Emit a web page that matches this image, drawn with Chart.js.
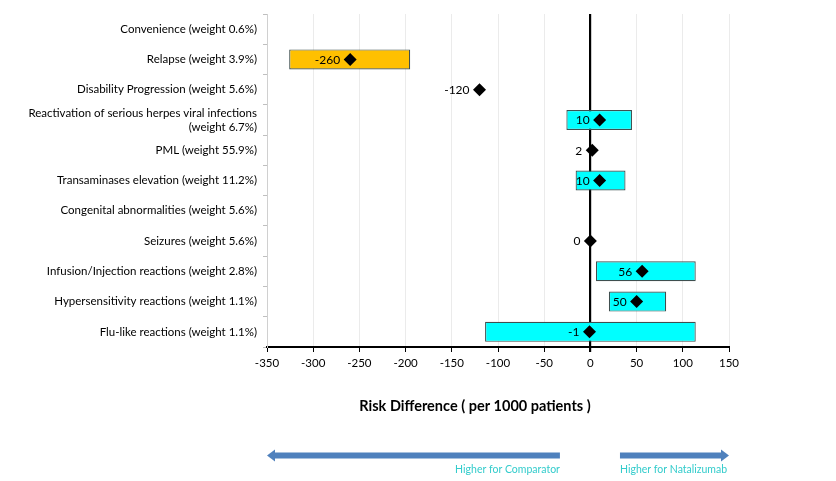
<!DOCTYPE html>
<html>
<head>
<meta charset="utf-8">
<script src="https://cdn.jsdelivr.net/npm/chart.js@4.4.1/dist/chart.umd.min.js"></script>
<style>
  html, body { margin: 0; padding: 0; background: #fff; }
  #wrap { width: 836px; height: 481px; }
</style>
</head>
<body>
<div id="wrap"><canvas id="c" width="836" height="481"></canvas></div>
<script>
const categories = [
  "Convenience (weight 0.6%)",
  "Relapse (weight 3.9%)",
  "Disability Progression (weight 5.6%)",
  ["Reactivation of serious herpes viral infections", "(weight 6.7%)"],
  "PML (weight 55.9%)",
  "Transaminases elevation (weight 11.2%)",
  "Congenital abnormalities (weight 5.6%)",
  "Seizures (weight 5.6%)",
  "Infusion/Injection reactions (weight 2.8%)",
  "Hypersensitivity reactions (weight 1.1%)",
  "Flu-like reactions (weight 1.1%)"
];
const riskDiff = [null, -260, -120, 10, 2, 10, null, 0, 56, 50, -1];
const ciLow  = [null, -326, null, -26, null, -16, null, null, 6, 20, -114];
const ciHigh = [null, -195, null, 45, null, 38, null, null, 114, 82, 114];
const xTicks = [-350, -300, -250, -200, -150, -100, -50, 0, 50, 100, 150];
const axisTitle = "Risk Difference ( per 1000 patients )";
const leftArrowLabel = "Higher for Comparator";
const rightArrowLabel = "Higher for Natalizumab";
const leftArrowRange = [-350, -33];
const rightArrowRange = [32, 150];

const FONT = "Lato, 'Open Sans', sans-serif";

const ciData = ciLow.map((lo, i) => (lo === null ? null : [lo, ciHigh[i]]));
const ciColors = riskDiff.map(v => (v !== null && v < -50 ? '#FFC000' : '#00FFFF'));

const labelPlugin = {
  id: 'extras',
  afterDatasetsDraw(chart) {
    const ctx = chart.ctx;
    const meta = chart.getDatasetMeta(1);
    ctx.save();
    ctx.font = "12px " + FONT;
    ctx.fillStyle = '#000';
    ctx.textAlign = 'right';
    ctx.textBaseline = 'middle';
    meta.data.forEach((pt, i) => {
      if (riskDiff[i] === null) return;
      ctx.fillText(String(riskDiff[i]), pt.x - 10, pt.y + 0.5);
    });
    ctx.restore();
  },
  afterDraw(chart) {
    const ctx = chart.ctx;
    const xs = chart.scales.x;
    ctx.save();
    // axis title
    ctx.font = "bold 14.5px " + FONT;
    ctx.fillStyle = '#000';
    ctx.textAlign = 'center';
    ctx.textBaseline = 'middle';
    ctx.fillText(axisTitle, (xs.left + xs.right) / 2 - 23, 406);
    // arrows
    const ay = 455.5;
    const col = '#4F81BD';
    ctx.fillStyle = col;
    const lx0 = xs.getPixelForValue(leftArrowRange[0]);
    const lx1 = xs.getPixelForValue(leftArrowRange[1]);
    ctx.fillRect(lx0 + 6, ay - 3, lx1 - lx0 - 6, 6);
    ctx.beginPath();
    ctx.moveTo(lx0, ay);
    ctx.lineTo(lx0 + 8, ay - 6);
    ctx.lineTo(lx0 + 8, ay + 6);
    ctx.closePath();
    ctx.fill();
    const rx0 = xs.getPixelForValue(rightArrowRange[0]);
    const rx1 = xs.getPixelForValue(rightArrowRange[1]);
    ctx.fillRect(rx0, ay - 3, rx1 - rx0 - 6, 6);
    ctx.beginPath();
    ctx.moveTo(rx1, ay);
    ctx.lineTo(rx1 - 8, ay - 6);
    ctx.lineTo(rx1 - 8, ay + 6);
    ctx.closePath();
    ctx.fill();
    ctx.font = "10.5px " + FONT;
    ctx.fillStyle = '#33CCCC';
    ctx.textBaseline = 'middle';
    ctx.textAlign = 'right';
    ctx.fillText(leftArrowLabel, lx1, 470);
    ctx.textAlign = 'left';
    ctx.fillText(rightArrowLabel, rx0, 470);
    ctx.restore();
  }
};

new Chart(document.getElementById('c'), {
  type: 'bar',
  data: {
    labels: categories,
    datasets: [
      {
        type: 'bar',
        data: ciData,
        backgroundColor: ciColors,
        borderColor: '#3F4F4F',
        borderWidth: 1.2,
        borderSkipped: false,
        barPercentage: 0.66,
        categoryPercentage: 1.0,
        order: 2
      },
      {
        type: 'line',
        data: riskDiff,
        showLine: false,
        pointStyle: 'rectRot',
        pointRadius: 6.5,
        pointHoverRadius: 6.5,
        backgroundColor: '#000',
        borderColor: '#000',
        borderWidth: 0,
        order: 1
      }
    ]
  },
  options: {
    indexAxis: 'y',
    responsive: false,
    animation: false,
    devicePixelRatio: 1,
    layout: { padding: { left: 0, top: 14, right: 107, bottom: 0 } },
    plugins: { legend: { display: false }, tooltip: { enabled: false } },
    scales: {
      x: {
        type: 'linear',
        min: -350,
        max: 150,
        afterBuildTicks(scale) { scale.ticks = xTicks.map(v => ({ value: v })); },
        afterFit(scale) { scale.height = 134; },
        grid: {
          color: ctx => (ctx.tick && ctx.tick.value === 0 ? '#000' : '#EBEBEB'),
          lineWidth: ctx => (ctx.tick && ctx.tick.value === 0 ? 2.2 : 1),
          tickColor: '#000',
          tickLength: 5,
          drawOnChartArea: true
        },
        border: { color: '#000', width: 2 },
        ticks: {
          font: { family: FONT, size: 11.5 },
          color: '#000',
          padding: 4,
          maxRotation: 0,
          autoSkip: false
        }
      },
      y: {
        type: 'category',
        offset: true,
        afterFit(scale) { scale.width = 267; },
        grid: {
          offset: true,
          drawOnChartArea: false,
          drawTicks: true,
          tickLength: 4,
          tickColor: '#BFBFBF',
          color: '#BFBFBF'
        },
        border: { color: '#D0D0D0', width: 1 },
        ticks: {
          font: { family: FONT, size: 11.5 },
          color: '#000',
          padding: 6,
          autoSkip: false
        }
      }
    }
  },
  plugins: [labelPlugin]
});
</script>
</body>
</html>
